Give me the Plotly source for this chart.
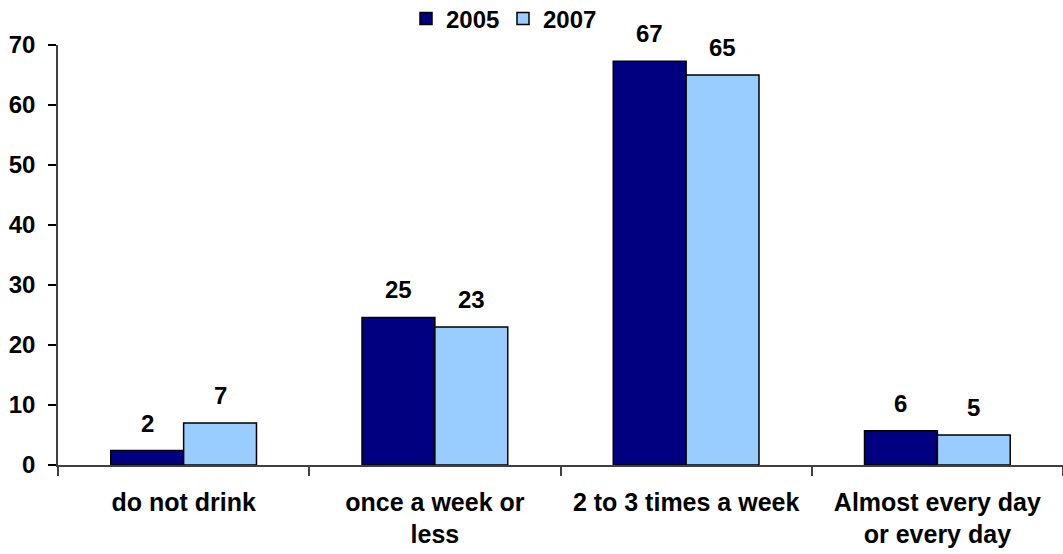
import plotly.graph_objects as go

categories = ["do not drink", "once a week or<br>less", "2 to 3 times a week", "Almost every day<br>or every day"]
series_names = ["2005", "2007"]
values_2005 = [2.4, 24.6, 67.3, 5.7]
values_2007 = [7.0, 23.0, 65.0, 5.0]
labels_2005 = ["2", "25", "67", "6"]
labels_2007 = ["7", "23", "65", "5"]
colors = ["#000080", "#99CCFF"]
y_ticks = [0, 10, 20, 30, 40, 50, 60, 70]

FONT = "Liberation Sans, Arial, sans-serif"

fig = go.Figure()
for name, vals, col in zip(series_names, [values_2005, values_2007], colors):
    fig.add_trace(go.Bar(
        name=name, x=categories, y=vals,
        marker=dict(color=col, line=dict(color="black", width=1.5)),
    ))

# value labels above bars
for vals, labs, shift in [(values_2005, labels_2005, -36.5), (values_2007, labels_2007, 36.5)]:
    for c, v, t in zip(categories, vals, labs):
        fig.add_annotation(
            x=c, y=v, text=t, showarrow=False, xshift=shift, yshift=12,
            yanchor="bottom", xanchor="center",
            font=dict(family=FONT, size=24, color="black", weight="bold"),
        )

fig.update_layout(
    width=1063, height=554,
    margin=dict(l=58, r=0, t=45, b=89, autoexpand=False),
    plot_bgcolor="white", paper_bgcolor="white",
    barmode="group", bargap=0.42, bargroupgap=0,
    font=dict(family=FONT, size=24, color="black", weight="bold"),
    legend=dict(
        orientation="h", xref="container", yref="container",
        x=503 / 1063, xanchor="center", y=1 - 19 / 554, yanchor="middle",
        font=dict(family=FONT, size=24, color="black", weight="bold"),
        traceorder="normal", bgcolor="rgba(0,0,0,0)",
        entrywidth=52, entrywidthmode="pixels",
    ),
    showlegend=True,
)
fig.update_xaxes(
    automargin=False,
    showline=True, linecolor="#404040", linewidth=1.5,
    ticks="outside", tickson="boundaries", ticklen=9, tickcolor="#404040", tickwidth=1.5,
    showgrid=False, ticklabelstandoff=14,
    tickfont=dict(family=FONT, size=25, color="black", weight="bold"),
)
fig.update_yaxes(
    automargin=False,
    range=[0, 70], tickvals=y_ticks, showline=True, linecolor="#404040", linewidth=1.5,
    ticks="outside", ticklen=8, tickcolor="black", tickwidth=1.5,
    showgrid=False, zeroline=False, ticklabelstandoff=8,
    tickfont=dict(family=FONT, size=24, color="black", weight="bold"),
)

fig.write_html(
    "out.html",
    config={"displayModeBar": False},
    post_script="document.body.style.margin='0';document.body.style.overflow='hidden';",
)
